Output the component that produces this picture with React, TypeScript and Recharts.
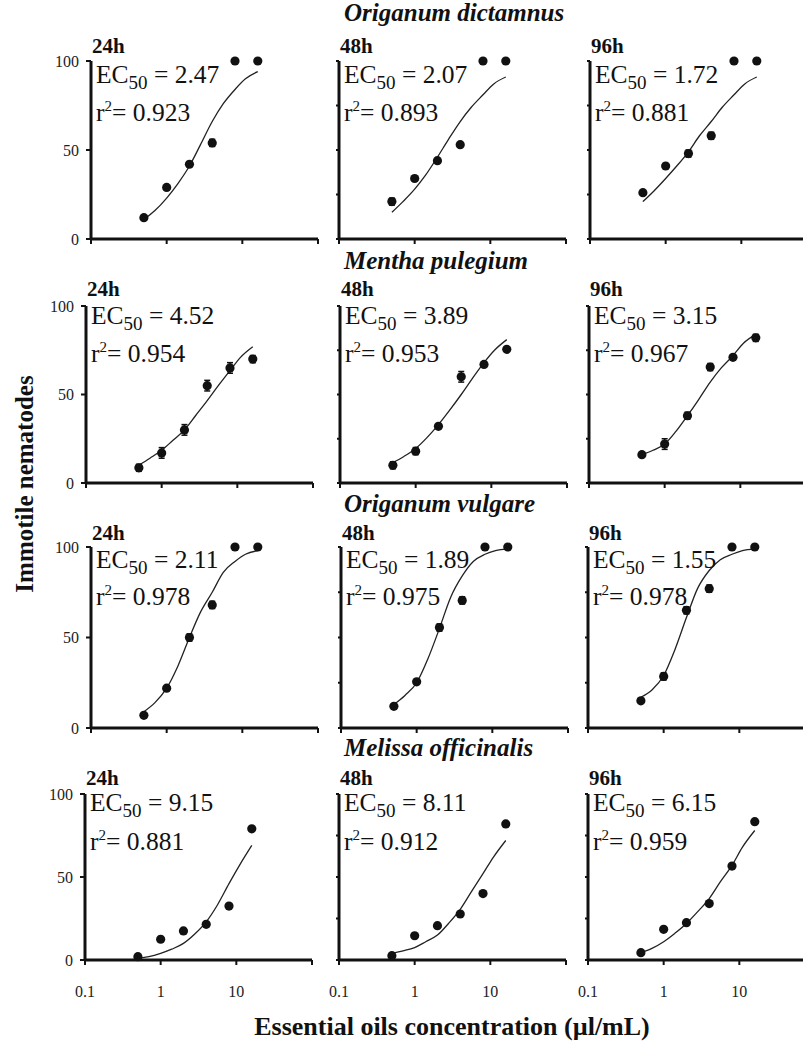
import React from 'react';
import { ComposedChart, XAxis, YAxis, Line, Scatter, ErrorBar } from 'recharts';

// ---------- data ----------
const concentrations = [0.5, 1, 2, 4, 8, 16];
const fitConcentrations = [0.5, 0.7, 1, 1.4, 2, 2.8, 4, 5.6, 8, 11, 16];
const xTicks = [0.1, 1, 10, 100];
const xTickLabels: Record<number, string> = { 0.1: '0.1', 1: '1', 10: '10', 100: '' };
const yTicksLabelled = [0, 50, 100];
const yTicksUnlabelled = [0, 25, 50, 75, 100];
const speciesNames = ['Origanum dictamnus', 'Mentha pulegium', 'Origanum vulgare', 'Melissa officinalis'];
const timeLabels = ['24h', '48h', '96h'];

// Origanum dictamnus
const dictamnus24 = [12, 29, 42, 54, 100, 100];
const dictamnus48 = [21, 34, 44, 53, 100, 100];
const dictamnus96 = [26, 41, 48, 58, 100, 100];
const dictamnus24Err = [0, 0, 0, 2, 0, 0];
const dictamnus48Err = [2, 0, 0, 0, 0, 0];
const dictamnus96Err = [0, 0, 2, 2, 0, 0];
const dictamnus24Fit = [11, 16, 23, 31, 41, 53, 66, 76, 84, 90, 94];
const dictamnus48Fit = [15, 21, 28, 36, 46, 56, 66, 74, 81, 87, 91];
const dictamnus96Fit = [21, 27, 34, 41, 49, 58, 66, 74, 81, 87, 91];
const dictamnusEC50 = ['2.47', '2.07', '1.72'];
const dictamnusR2 = ['0.923', '0.893', '0.881'];

// Mentha pulegium
const mentha24 = [8.6, 17, 30, 55, 65, 70];
const mentha48 = [10, 18, 32, 60, 67, 75.5];
const mentha96 = [16, 22, 38, 65.5, 71, 82];
const mentha24Err = [2, 3, 3, 3, 3, 2];
const mentha48Err = [2, 2, 1, 3, 1, 1];
const mentha96Err = [1, 3, 2, 2, 1, 2];
const mentha24Fit = [10, 14, 18.5, 24, 30, 38, 46.5, 55, 63.5, 71, 77];
const mentha48Fit = [11.5, 15, 19.5, 25.5, 33, 41, 50, 59, 68, 75, 81];
const mentha96Fit = [16, 18.5, 22, 29, 38, 47, 57, 65, 72, 79, 84];
const menthaEC50 = ['4.52', '3.89', '3.15'];
const menthaR2 = ['0.954', '0.953', '0.967'];

// Origanum vulgare
const vulgare24 = [7, 22, 50, 68, 100, 100];
const vulgare48 = [12, 25.5, 55.5, 70.5, 100, 100];
const vulgare96 = [15, 28.5, 65, 77, 100, 100];
const vulgare24Err = [0, 1, 2, 2, 0, 0];
const vulgare48Err = [0, 1, 2, 2, 0, 0];
const vulgare96Err = [0, 2, 2, 2, 0, 0];
const vulgare24Fit = [9, 14, 22, 34, 50, 64, 75, 86, 92, 96, 98];
const vulgare48Fit = [13, 18, 25, 38, 55, 72, 84, 92, 96, 98, 99];
const vulgare96Fit = [17, 21, 29, 43, 61, 77, 87, 93, 96, 98, 99];
const vulgareEC50 = ['2.11', '1.89', '1.55'];
const vulgareR2 = ['0.978', '0.975', '0.978'];

// Melissa officinalis
const melissa24 = [2, 12.5, 17.5, 21.5, 32.5, 79];
const melissa48 = [2.6, 14.6, 20.7, 27.7, 40, 82];
const melissa96 = [4.4, 18.5, 22.5, 34, 56.6, 83.3];
const melissa24Err = [0, 0, 0, 0, 0, 0];
const melissa48Err = [0, 0, 0, 0, 0, 0];
const melissa96Err = [0, 0, 0, 0, 0, 0];
const melissa24Fit = [1, 2, 4, 6.5, 10, 15.5, 23, 33, 46, 57, 69];
const melissa48Fit = [4, 5.5, 7.5, 11, 15, 22, 30.5, 41, 52, 62, 72];
const melissa96Fit = [4.5, 7, 11, 16, 22, 29, 37, 47, 57, 68, 78];
const melissaEC50 = ['9.15', '8.11', '6.15'];
const melissaR2 = ['0.881', '0.912', '0.959'];

const pointsGrid = [
  [dictamnus24, dictamnus48, dictamnus96],
  [mentha24, mentha48, mentha96],
  [vulgare24, vulgare48, vulgare96],
  [melissa24, melissa48, melissa96],
];
const errorsGrid = [
  [dictamnus24Err, dictamnus48Err, dictamnus96Err],
  [mentha24Err, mentha48Err, mentha96Err],
  [vulgare24Err, vulgare48Err, vulgare96Err],
  [melissa24Err, melissa48Err, melissa96Err],
];
const fitGrid = [
  [dictamnus24Fit, dictamnus48Fit, dictamnus96Fit],
  [mentha24Fit, mentha48Fit, mentha96Fit],
  [vulgare24Fit, vulgare48Fit, vulgare96Fit],
  [melissa24Fit, melissa48Fit, melissa96Fit],
];
const ec50Grid = [dictamnusEC50, menthaEC50, vulgareEC50, melissaEC50];
const r2Grid = [dictamnusR2, menthaR2, vulgareR2, melissaR2];

// ---------- layout ----------
const SERIF = '"Liberation Serif", "Times New Roman", "DejaVu Serif", serif';
const INK = '#111';
const ROW_TOP = [61, 306, 547, 794];
const ROW_BOTTOM = [239, 483, 728, 960];
const AXIS_X = [
  [91, 86, 91, 85],
  [339, 340, 341, 339],
  [590, 589, 588, 588],
];
const TIME_DY = [-8, -10, -7, -9];
const EC_DY = [22, 18, 21, 17];
const R2_DY = [60, 56, 58, 56];
const TITLE_Y = [21, 269, 512, 756];
const TITLE_X = 344;
const PLOT_W = 227;
const Y_AXIS_W = 70;
const M_TOP = 14;
const M_RIGHT = 14;
const X_AXIS_H = 46;

const Dot = (props: any) => {
  const { cx, cy } = props;
  if (cx == null || cy == null) return <g />;
  return <circle cx={cx} cy={cy} r={4.6} fill={INK} />;
};

function Panel({ row, col }: { row: number; col: number }) {
  const ax = AXIS_X[col][row];
  const top = ROW_TOP[row];
  const plotH = ROW_BOTTOM[row] - top;
  const pts = concentrations.map((x, i) => ({ x, y: pointsGrid[row][col][i], e: errorsGrid[row][col][i] }));
  const fit = fitConcentrations.map((x, i) => ({ x, y: fitGrid[row][col][i] }));
  const showX = row === 3;
  const showY = col === 0;
  return (
    <div style={{ position: 'absolute', left: ax - Y_AXIS_W, top: top - M_TOP }}>
      <ComposedChart
        width={Y_AXIS_W + PLOT_W + M_RIGHT}
        height={M_TOP + plotH + X_AXIS_H}
        margin={{ top: M_TOP, right: M_RIGHT, bottom: 0, left: 0 }}
      >
        <XAxis
          dataKey="x"
          type="number"
          scale="log"
          domain={[0.1, 100]}
          ticks={xTicks}
          interval={0}
          height={X_AXIS_H}
          tickSize={5}
          tickMargin={21}
          tickFormatter={(v: number) => (showX ? xTickLabels[v] ?? '' : '')}
          axisLine={{ stroke: INK, strokeWidth: 3 }}
          tickLine={{ stroke: INK, strokeWidth: 2 }}
          tick={{ fontFamily: SERIF, fontSize: 16, fill: '#222' }}
        />
        <YAxis
          dataKey="y"
          type="number"
          domain={[0, 100]}
          ticks={showY ? yTicksLabelled : yTicksUnlabelled}
          interval={0}
          width={Y_AXIS_W}
          tickSize={showY ? 5 : 3}
          tickMargin={7}
          tickFormatter={(v: number) => (showY ? String(v) : '')}
          axisLine={{ stroke: INK, strokeWidth: 3 }}
          tickLine={{ stroke: INK, strokeWidth: 2 }}
          tick={{ fontFamily: SERIF, fontSize: 16, fill: '#222' }}
        />
        <Line
          data={fit}
          dataKey="y"
          type="monotone"
          dot={false}
          activeDot={false}
          stroke="#222"
          strokeWidth={1.3}
          isAnimationActive={false}
        />
        <Scatter data={pts} dataKey="y" shape={Dot} isAnimationActive={false}>
          <ErrorBar dataKey="e" direction="y" width={3} stroke={INK} strokeWidth={1.5} />
        </Scatter>
      </ComposedChart>
    </div>
  );
}

function Annotations() {
  const items: React.ReactNode[] = [];
  speciesNames.forEach((name, r) => {
    items.push(
      <text key={'s' + r} x={TITLE_X} y={TITLE_Y[r]} fontFamily={SERIF} fontWeight="bold" fontStyle="italic" fontSize={25} fill={INK}>
        {name}
      </text>
    );
    for (let c = 0; c < 3; c++) {
      const ax = AXIS_X[c][r];
      const top = ROW_TOP[r];
      items.push(
        <text key={`t${r}${c}`} x={ax + 1} y={top + TIME_DY[r]} fontFamily={SERIF} fontWeight="bold" fontSize={21} fill={INK}>
          {timeLabels[c]}
        </text>
      );
      items.push(
        <text key={`e${r}${c}`} x={ax + 5} y={top + EC_DY[r]} fontFamily={SERIF} fontSize={25.5} fill={INK}>
          EC<tspan fontSize={19} dy={6}>50</tspan>
          <tspan dy={-6}>{' = ' + ec50Grid[r][c]}</tspan>
        </text>
      );
      items.push(
        <text key={`r${r}${c}`} x={ax + 5} y={top + R2_DY[r]} fontFamily={SERIF} fontSize={25.5} fill={INK}>
          r<tspan fontSize={15} dy={-10}>2</tspan>
          <tspan dy={10}>{'= ' + r2Grid[r][c]}</tspan>
        </text>
      );
    }
  });
  return (
    <svg width={803} height={1041} style={{ position: 'absolute', left: 0, top: 0, pointerEvents: 'none' }}>
      {items}
      <text x={33} y={484} transform="rotate(-90 33 484)" textAnchor="middle" fontFamily={SERIF} fontWeight="bold" fontSize={25} fill={INK}>
        Immotile nematodes
      </text>
      <text x={452} y={1035} textAnchor="middle" fontFamily={SERIF} fontWeight="bold" fontSize={26} fill={INK}>
        Essential oils concentration (µl/mL)
      </text>
    </svg>
  );
}

export default function App() {
  const panels: React.ReactNode[] = [];
  for (let r = 0; r < 4; r++) for (let c = 0; c < 3; c++) panels.push(<Panel key={`${r}-${c}`} row={r} col={c} />);
  return (
    <div style={{ position: 'absolute', left: 0, top: 0, width: 803, height: 1041, overflow: 'hidden', background: '#fff' }}>
      {panels}
      <Annotations />
    </div>
  );
}
